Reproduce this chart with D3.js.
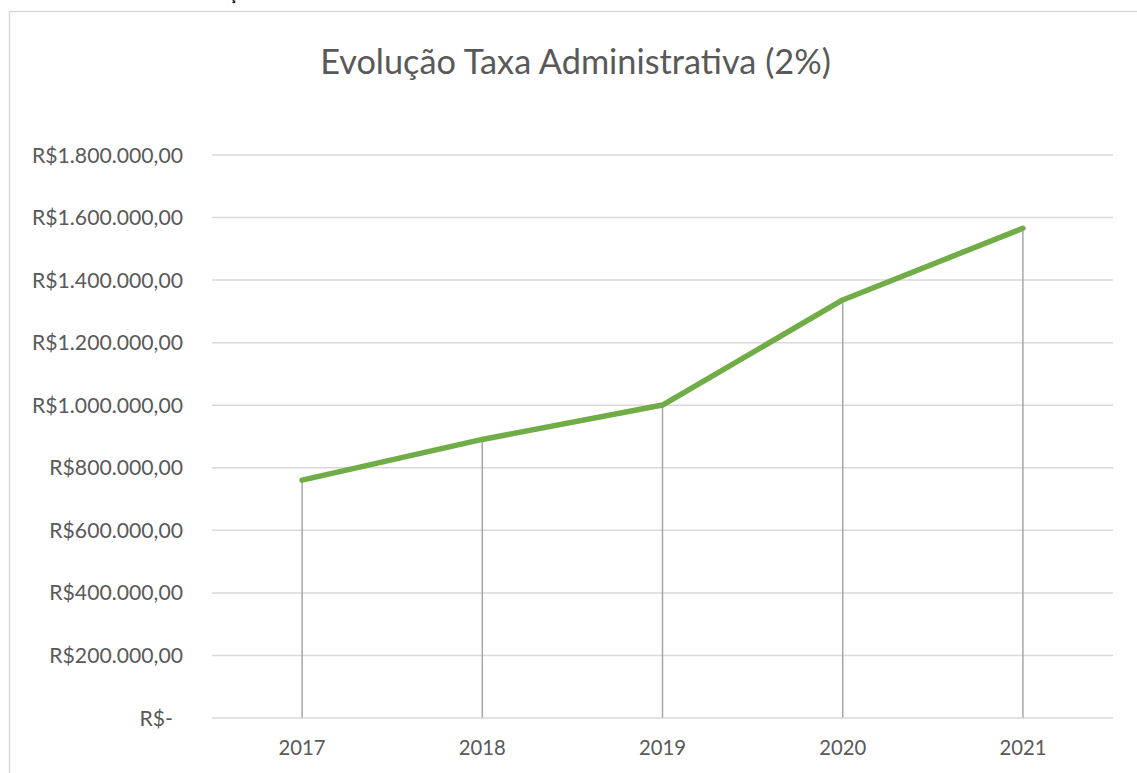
<!DOCTYPE html>
<html>
<head>
<meta charset="utf-8">
<script src="https://cdn.jsdelivr.net/npm/d3@7"></script>
<style>
  html, body { margin: 0; padding: 0; background: #fff; }
  svg { display: block; }
</style>
</head>
<body>
<svg id="chart" width="1137" height="773"></svg>
<script>
// ---- data ----
const titleText = "Evolução Taxa Administrativa (2%)";
const years = ["2017", "2018", "2019", "2020", "2021"];
const values = [759000, 889000, 999000, 1335000, 1564000];
const yTicks = [0, 200000, 400000, 600000, 800000, 1000000, 1200000, 1400000, 1600000, 1800000];

// ---- layout ----
const W = 1137, H = 773;
const plot = { left: 212, right: 1113, top: 154.5, bottom: 717.5 };
const FONT = "Lato, 'Open Sans', sans-serif";
const TEXT = "#595959";

const svg = d3.select("#chart");

const locale = d3.formatLocale({ decimal: ",", thousands: ".", grouping: [3], currency: ["R$", ""] });
const money = locale.format("$,.2f");
const fmt = v => v === 0 ? "R$-" : money(v);

const x = d3.scaleBand().domain(years).range([plot.left, plot.right]).padding(0);
const y = d3.scaleLinear().domain([0, 1800000]).range([plot.bottom, plot.top]);

// chart border
svg.append("rect")
  .attr("x", 9.5).attr("y", 11.5)
  .attr("width", W + 20).attr("height", H + 20)
  .attr("fill", "none").attr("stroke", "#D9D9D9").attr("stroke-width", 1.5);

// cut-off text fragment above the chart (only its cedilla shows, as in the reference)
svg.append("text")
  .attr("x", 233).attr("y", 0)
  .attr("text-anchor", "middle")
  .attr("font-family", FONT).attr("font-weight", "bold").attr("font-size", 16)
  .attr("fill", "#000").text("ç");

// helper: fit font size to target width
function fitSize(str, target, weight) {
  const t = svg.append("text").attr("font-family", FONT).attr("font-size", 100)
    .attr("font-weight", weight || "normal").text(str);
  const w = t.node().getComputedTextLength();
  t.remove();
  return 100 * target / w;
}

// title
svg.append("text")
  .attr("x", 575.5).attr("y", 74)
  .attr("text-anchor", "middle")
  .attr("font-family", FONT)
  .attr("font-size", fitSize(titleText, 511))
  .attr("fill", TEXT)
  .text(titleText);

// gridlines + y axis via d3.axisLeft
const yAxis = d3.axisLeft(y).tickValues(yTicks).tickFormat(fmt)
  .tickSize(-(plot.right - plot.left)).tickPadding(0);
const yAxisG = svg.append("g")
  .attr("transform", `translate(${plot.left},0)`)
  .call(yAxis);
yAxisG.select(".domain").remove();
yAxisG.selectAll(".tick line").attr("stroke", "#D9D9D9").attr("stroke-width", 1.5);
const ySize = fitSize("R$1.800.000,00", 151);
yAxisG.selectAll(".tick text")
  .attr("x", d => d === 0 ? -39 : -29)
  .attr("dy", null).attr("y", 7.5)
  .attr("font-family", FONT).attr("font-size", ySize)
  .attr("fill", TEXT);

// x axis labels
const xAxis = d3.axisBottom(x).tickSize(0).tickPadding(0);
const xAxisG = svg.append("g")
  .attr("transform", `translate(0,${plot.bottom})`)
  .call(xAxis);
xAxisG.select(".domain").remove();
const xSize = fitSize("2017", 47);
xAxisG.selectAll(".tick text")
  .attr("dy", null).attr("y", 37.5)
  .attr("font-family", FONT).attr("font-size", xSize)
  .attr("fill", TEXT);

// drop lines
const cx = d => x(d) + x.bandwidth() / 2;
svg.append("g").selectAll("line")
  .data(years.map((yr, i) => ({ yr, v: values[i] })))
  .join("line")
  .attr("x1", d => cx(d.yr)).attr("x2", d => cx(d.yr))
  .attr("y1", d => y(d.v)).attr("y2", y(0))
  .attr("stroke", "#A6A6A6").attr("stroke-width", 1.5);

// line
const line = d3.line().x((d, i) => cx(years[i])).y(d => y(d));
svg.append("path")
  .datum(values)
  .attr("d", line)
  .attr("fill", "none")
  .attr("stroke", "#70AD47")
  .attr("stroke-width", 5.5)
  .attr("stroke-linejoin", "round")
  .attr("stroke-linecap", "round");
</script>
</body>
</html>
